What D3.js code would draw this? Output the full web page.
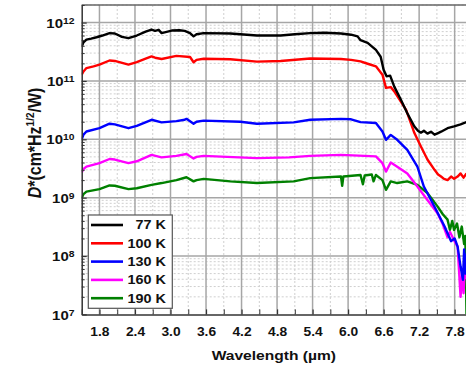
<!DOCTYPE html>
<html>
<head>
<meta charset="utf-8">
<script src="https://cdn.jsdelivr.net/npm/d3@7"></script>
<style>
  body { margin: 0; background: #fff; }
  svg { display: block; font-family: "Liberation Sans", Arial, sans-serif; font-weight: bold; }
</style>
</head>
<body>
<div id="chart"></div>
<script>
// series labels and colours
const temps = ["77 K", "100 K", "130 K", "160 K", "190 K"];
const colors = ["#000000", "#ff0000", "#0000ff", "#ff00ff", "#008000"];

// [wavelength (um), D* (cm Hz^1/2 / W)]
const k77 = [[1.50,3.9e11],[1.53,4.6e11],[1.58,5.1e11],[1.66,5.3e11],[1.75,5.6e11],[1.85,6.0e11],[1.97,6.6e11],[2.06,6.5e11],[2.18,5.7e11],[2.29,5.4e11],[2.43,6.0e11],[2.58,7.0e11],[2.68,7.6e11],[2.74,7.2e11],[2.80,7.5e11],[2.85,6.6e11],[3.02,7.3e11],[3.15,7.4e11],[3.24,7.2e11],[3.33,6.6e11],[3.39,5.8e11],[3.44,6.3e11],[3.56,6.6e11],[4.01,6.5e11],[4.46,6.0e11],[4.86,6.0e11],[5.10,6.3e11],[5.36,6.6e11],[5.60,6.7e11],[5.88,6.5e11],[6.05,6.2e11],[6.16,5.8e11],[6.21,5.0e11],[6.33,4.5e11],[6.47,3.4e11],[6.55,2.6e11],[6.60,1.55e11],[6.65,1.2e11],[6.71,1.23e11],[6.78,8.0e10],[6.89,4.8e10],[7.00,2.8e10],[7.12,1.66e10],[7.18,1.4e10],[7.23,1.3e10],[7.28,1.4e10],[7.34,1.25e10],[7.40,1.35e10],[7.46,1.2e10],[7.52,1.28e10],[7.57,1.35e10],[7.68,1.55e10],[7.79,1.66e10],[7.90,1.8e10],[8.00,1.97e10]];
const k100 = [[1.50,1.28e11],[1.53,1.45e11],[1.58,1.66e11],[1.70,1.78e11],[1.80,1.9e11],[1.97,2.24e11],[2.06,2.2e11],[2.29,1.9e11],[2.43,2.1e11],[2.58,2.4e11],[2.68,2.63e11],[2.74,2.5e11],[2.85,2.38e11],[3.10,2.69e11],[3.33,2.57e11],[3.39,2.09e11],[3.44,2.3e11],[3.56,2.4e11],[4.01,2.35e11],[4.46,2.14e11],[4.86,2.2e11],[5.36,2.43e11],[5.88,2.38e11],[6.05,2.3e11],[6.21,2.16e11],[6.33,1.97e11],[6.47,1.78e11],[6.58,1.28e11],[6.64,7.6e10],[6.72,7.85e10],[6.78,6.6e10],[6.98,3.2e10],[7.12,1.28e10],[7.23,7.5e9],[7.34,4.5e9],[7.46,3.0e9],[7.52,2.5e9],[7.57,2.3e9],[7.62,2.1e9],[7.68,2.0e9],[7.74,2.3e9],[7.79,2.1e9],[7.85,2.3e9],[7.90,2.6e9],[7.95,2.2e9],[8.00,2.6e9]];
const k130 = [[1.50,1.0e10],[1.53,1.2e10],[1.58,1.36e10],[1.80,1.55e10],[1.97,1.85e10],[2.06,1.8e10],[2.29,1.55e10],[2.43,1.7e10],[2.68,2.16e10],[2.85,1.95e10],[3.10,2.05e10],[3.24,2.16e10],[3.27,2.24e10],[3.39,1.85e10],[3.44,2.0e10],[3.56,2.09e10],[4.18,2.0e10],[4.46,1.85e10],[5.08,1.95e10],[5.36,2.16e10],[5.88,2.24e10],[6.05,2.2e10],[6.21,1.97e10],[6.47,1.9e10],[6.58,1.36e10],[6.64,9.8e9],[6.72,1.19e10],[6.83,9.8e9],[7.00,6.6e9],[7.17,3.4e9],[7.28,1.55e9],[7.46,7.0e8],[7.63,3.2e8],[7.70,2.2e8],[7.74,1.8e8],[7.80,2.0e8],[7.85,1.45e8],[7.90,6.6e7],[7.94,3.9e7],[7.96,1.3e8],[7.98,5.0e7],[8.00,1.1e8]];
const k160 = [[1.50,2.7e9],[1.53,3.1e9],[1.58,3.4e9],[1.80,3.9e9],[1.97,4.6e9],[2.06,4.5e9],[2.29,3.9e9],[2.43,4.2e9],[2.68,5.4e9],[2.85,4.9e9],[3.10,5.2e9],[3.27,5.6e9],[3.39,4.7e9],[3.44,5.0e9],[3.56,5.2e9],[4.46,4.75e9],[5.00,4.9e9],[5.36,5.2e9],[5.88,5.4e9],[6.47,5.1e9],[6.58,3.9e9],[6.64,2.8e9],[6.72,4.0e9],[6.83,3.4e9],[7.00,2.6e9],[7.17,1.55e9],[7.34,9.1e8],[7.51,5.4e8],[7.60,3.5e8],[7.68,2.1e8],[7.72,2.6e8],[7.79,1.86e8],[7.85,1.45e8],[7.90,2.0e7],[7.93,6.0e7],[7.95,2.3e7],[7.98,9.8e7],[8.00,4.0e7]];
const k190 = [[1.50,9.8e8],[1.53,1.15e9],[1.58,1.27e9],[1.80,1.4e9],[1.97,1.62e9],[2.06,1.6e9],[2.29,1.4e9],[2.43,1.45e9],[2.68,1.66e9],[2.85,1.78e9],[3.10,2.0e9],[3.27,2.24e9],[3.39,1.9e9],[3.44,2.0e9],[3.56,2.1e9],[4.01,1.9e9],[4.46,1.78e9],[5.08,1.9e9],[5.36,2.16e9],[5.88,2.3e9],[5.90,1.6e9],[5.92,2.3e9],[6.21,2.45e9],[6.25,1.7e9],[6.28,2.4e9],[6.40,2.5e9],[6.43,1.9e9],[6.47,2.45e9],[6.58,2.0e9],[6.64,1.36e9],[6.72,1.9e9],[6.83,1.78e9],[7.00,1.9e9],[7.17,1.66e9],[7.34,1.2e9],[7.51,7.1e8],[7.60,5.2e8],[7.68,4.2e8],[7.72,2.8e8],[7.76,4.0e8],[7.79,2.8e8],[7.84,3.6e8],[7.88,2.1e8],[7.92,3.2e8],[7.96,1.6e8],[7.98,2.2e8],[8.00,1.0e7]];

const series = [k77, k100, k130, k160, k190];
const xTicks = [1.8, 2.4, 3.0, 3.6, 4.2, 4.8, 5.4, 6.0, 6.6, 7.2, 7.8];
const xMinor = [1.5, 2.1, 2.7, 3.3, 3.9, 4.5, 5.1, 5.7, 6.3, 6.9, 7.5];
const yDecades = [1e7, 1e8, 1e9, 1e10, 1e11, 1e12];

const width = 466, height = 368;
const plot = {left: 81.7, right: 466.5, top: 5, bottom: 314.4};

const svg = d3.select("#chart").append("svg")
    .attr("width", width)
    .attr("height", height);

const x = d3.scaleLinear().domain([1.5, 8.0]).range([plot.left, plot.right]);
const y = d3.scaleLog().domain([1e7, 2e12]).range([plot.bottom, plot.top]);

// minor values on the log axis: 2..9 x each decade
const yMinor = [];
yDecades.forEach(d => { for (let k = 2; k <= 9; k++) if (d * k <= 2e12) yMinor.push(d * k); });
const xMinorGrid = xMinor.filter(v => v > 1.5);

// grid
const grid = svg.append("g");
grid.selectAll(".gx-minor").data(xMinorGrid).join("line")
    .attr("x1", d => x(d)).attr("x2", d => x(d))
    .attr("y1", plot.top).attr("y2", plot.bottom)
    .attr("stroke", "#cfcfcf").attr("stroke-width", 1).attr("stroke-dasharray", "2,2");
grid.selectAll(".gy-minor").data(yMinor).join("line")
    .attr("x1", plot.left).attr("x2", plot.right)
    .attr("y1", d => y(d)).attr("y2", d => y(d))
    .attr("stroke", "#cfcfcf").attr("stroke-width", 1).attr("stroke-dasharray", "2,2");
grid.selectAll(".gx").data(xTicks).join("line")
    .attr("x1", d => x(d)).attr("x2", d => x(d))
    .attr("y1", plot.top).attr("y2", plot.bottom)
    .attr("stroke", "#a6a6a6").attr("stroke-width", 1.5);
grid.selectAll(".gy").data(yDecades.slice(1)).join("line")
    .attr("x1", plot.left).attr("x2", plot.right)
    .attr("y1", d => y(d)).attr("y2", d => y(d))
    .attr("stroke", "#a6a6a6").attr("stroke-width", 1.5);

// top frame
svg.append("line")
    .attr("x1", plot.left).attr("x2", plot.right).attr("y1", plot.top).attr("y2", plot.top)
    .attr("stroke", "#666").attr("stroke-width", 1.5);

// curves
svg.append("clipPath").attr("id", "clip").append("rect")
    .attr("x", plot.left).attr("y", plot.top)
    .attr("width", plot.right - plot.left).attr("height", plot.bottom - plot.top);

const line = d3.line().x(d => x(d[0])).y(d => y(d[1]));

svg.append("g").attr("clip-path", "url(#clip)")
  .selectAll("path").data(series.slice().reverse()).join("path")
    .attr("d", line)
    .attr("fill", "none")
    .attr("stroke", (d, i) => colors[series.length - 1 - i])
    .attr("stroke-width", 2.4)
    .attr("stroke-linejoin", "round");

// axes
const xAxisG = svg.append("g").attr("transform", `translate(0,${plot.bottom})`)
    .call(d3.axisBottom(x).tickValues(xTicks).tickSizeInner(-5).tickSizeOuter(0)
      .tickPadding(13).tickFormat(d3.format(".1f")));
svg.append("g").attr("transform", `translate(0,${plot.bottom})`)
    .call(d3.axisBottom(x).tickValues(xMinor).tickSizeInner(-5).tickSizeOuter(0).tickFormat(""))
    .call(g => g.select(".domain").remove())
    .selectAll("line").attr("stroke", "#333");

xAxisG.select(".domain").attr("stroke", "#333").attr("stroke-width", 1.5);
xAxisG.selectAll(".tick line").attr("stroke", "#333").attr("stroke-width", 1.2);
xAxisG.selectAll(".tick text")
    .attr("font-size", 12).attr("font-weight", "bold").attr("fill", "#111")
    .attr("font-family", "Liberation Sans, Arial, sans-serif")
    .attr("transform", "scale(1.15,1)");

const yAxisG = svg.append("g").attr("transform", `translate(${plot.left},0)`)
    .call(d3.axisLeft(y).tickValues(yDecades).tickSizeInner(-5).tickSizeOuter(0)
      .tickPadding(6.3).tickFormat(() => "10"));
svg.append("g").attr("transform", `translate(${plot.left},0)`)
    .call(d3.axisLeft(y).tickValues(yMinor).tickSizeInner(-3).tickSizeOuter(0).tickFormat(""))
    .call(g => g.select(".domain").remove())
    .selectAll("line").attr("stroke", "#333");

yAxisG.select(".domain").attr("stroke", "#333").attr("stroke-width", 1.5);
yAxisG.selectAll(".tick line").attr("stroke", "#333").attr("stroke-width", 1.2);
yAxisG.selectAll(".tick text")
    .attr("font-size", 13).attr("font-weight", "bold").attr("fill", "#111")
    .attr("font-family", "Liberation Sans, Arial, sans-serif")
    .attr("dy", "0.36em")
    .attr("transform", "scale(1.15,1)")
    .append("tspan")
    .attr("dy", "-0.45em")
    .attr("font-size", 9)
    .text(d => Math.round(Math.log10(d)));

// axis titles
svg.append("text")
    .attr("transform", `translate(${(plot.left + 466) / 2},360) scale(1.2,1)`)
    .attr("text-anchor", "middle")
    .attr("font-size", 13)
    .attr("fill", "#111")
    .text("Wavelength (\u00b5m)");

const yTitle = svg.append("text")
    .attr("transform", "translate(41,143) scale(1.1,1) rotate(-90)")
    .attr("text-anchor", "middle")
    .attr("font-size", 16)
    .attr("fill", "#111");
yTitle.append("tspan").attr("font-style", "italic").text("D");
yTitle.append("tspan").text("*(cm*Hz");
yTitle.append("tspan").attr("font-size", 10).attr("dy", "-0.6em").text("1/2");
yTitle.append("tspan").attr("dy", "0.38em").text("/W)");

// legend
const legend = svg.append("g");
legend.append("rect")
    .attr("x", 88.3).attr("y", 215).attr("width", 84).attr("height", 93.3)
    .attr("fill", "#fff").attr("stroke", "#555").attr("stroke-width", 1.2);
const rows = legend.selectAll(".row").data(temps).join("g")
    .attr("transform", (d, i) => `translate(0,${225 + i * 18.3})`);
rows.append("line")
    .attr("x1", 91).attr("x2", 123).attr("y1", 0).attr("y2", 0)
    .attr("stroke", (d, i) => colors[i]).attr("stroke-width", 2.6);
rows.append("text")
    .attr("transform", "translate(166,0) scale(1.2,1)")
    .attr("text-anchor", "end")
    .attr("dy", "0.36em")
    .attr("font-size", 12)
    .attr("fill", "#111")
    .text(d => d);
</script>
</body>
</html>
